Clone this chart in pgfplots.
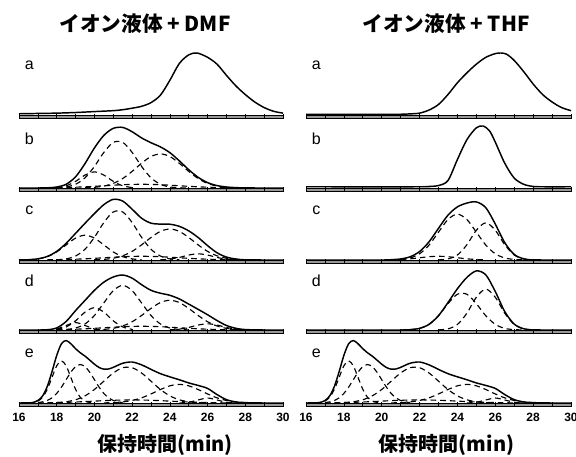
\documentclass[border=0pt]{standalone}
\usepackage{fontspec}
\setmainfont{Liberation Sans}
\newfontfamily\cjk{Noto Sans CJK JP}
\usepackage{pgfplots}
\pgfplotsset{compat=1.18}
\pgfplotsset{
  panel/.style={scale only axis, width=198pt, height=49.29pt,
    xmin=16, xmax=30, ymin=-0.06, ymax=1, clip=false,
    axis y line=none, axis x line*=bottom, axis on top,
    xtick={16,18,...,30}, minor xtick={17,19,...,29},
    tick align=inside, major tick length=3.5pt, minor tick length=3.5pt,
    tick style={black, line width=0.5pt},
    xticklabels={}, anchor=south west,
    /pgf/number format/assume math mode=true,
    xticklabel style={font=\fontsize{9}{10}\selectfont\bfseries, yshift=-1.5pt}},
  lastpanel/.style={xticklabels={16,18,20,22,24,26,28,30}},
  sol/.style={black, line width=1.1pt, smooth},
  dsh/.style={black, line width=0.85pt, smooth, dash pattern=on 4.2pt off 3pt},
}
\newcommand{\strip}{\draw[fill=black!40, line width=0.5pt] (axis cs:16,-0.06) rectangle (axis cs:30,0);}
\newcommand{\lab}[1]{\node[font=\fontsize{12}{14}\selectfont] at (axis cs:16.55,0.8) {#1};}
\begin{document}
\begin{tikzpicture}
\path[use as bounding box] (0,0) rectangle (432pt,342.75pt);
\node[font=\cjk\bfseries\fontsize{15.5}{17}\selectfont] at (108.75pt,324.75pt) {イオン液体 + DMF};
\node[font=\cjk\bfseries\fontsize{15.5}{17}\selectfont] at (334.5pt,324.75pt) {イオン液体 + THF};
\node[font=\cjk\bfseries\fontsize{15}{17}\selectfont] at (123.75pt,9pt) {保持時間(min)};
\node[font=\cjk\bfseries\fontsize{15}{17}\selectfont] at (334.9pt,9pt) {保持時間(min)};

% ---------- left a ----------
\begin{axis}[panel, at={(14.25pt,253.71pt)}]
\strip
\addplot[sol] coordinates {(16,0.02) (17,0.025) (18,0.03) (19,0.04) (20,0.055) (21,0.07) (21.5,0.085) (22,0.11) (22.5,0.14) (23,0.20) (23.5,0.32) (24,0.56) (24.5,0.83) (25,0.97) (25.44,1.0) (26,0.93) (26.5,0.82) (27,0.64) (27.5,0.47) (28,0.33) (28.5,0.21) (29,0.12) (29.5,0.06) (30,0.03)};
\lab{a}
\end{axis}

% ---------- left b ----------
\begin{axis}[panel, at={(14.25pt,198.96pt)}]
\strip
\addplot[sol] coordinates {(16,0) (17,0) (17.5,0.003) (18,0.016) (18.5,0.06) (19,0.18) (19.5,0.394) (20,0.646) (20.5,0.849) (21,0.962) (21.5,0.977) (22,0.907) (22.5,0.808) (23,0.73) (23.5,0.663) (24,0.57) (24.5,0.439) (25,0.295) (25.5,0.172) (26,0.087) (26.5,0.039) (27,0.016) (27.5,0.006) (28,0.001) (29,0) (30,0)};
\addplot[dsh] coordinates {(17.5,0.001) (18,0.004) (18.5,0.017) (19,0.06) (19.5,0.164) (20,0.348) (20.5,0.574) (21,0.736) (21.5,0.736) (22,0.574) (22.5,0.348) (23,0.164) (23.5,0.06) (24,0.017) (24.5,0.004) (25,0.001)};
\addplot[dsh] coordinates {(18,0.007) (18.5,0.035) (19,0.107) (19.5,0.208) (20,0.26) (20.5,0.208) (21,0.107) (21.5,0.035) (22,0.007)};
\addplot[dsh] coordinates {(19.5,0.003) (20,0.011) (20.5,0.031) (21,0.074) (21.5,0.153) (22,0.268) (22.5,0.399) (23,0.508) (23.5,0.55) (24,0.508) (24.5,0.399) (25,0.268) (25.5,0.153) (26,0.074) (26.5,0.031) (27,0.011) (27.5,0.003)};
\addplot[dsh] coordinates {(17.5,0.003) (18,0.005) (18.5,0.008) (19,0.013) (19.5,0.019) (20,0.027) (20.5,0.036) (21,0.045) (21.5,0.053) (22,0.058) (22.5,0.06) (23,0.058) (23.5,0.053) (24,0.045) (24.5,0.036) (25,0.027) (25.5,0.019) (26,0.013) (26.5,0.008) (27,0.005) (27.5,0.003)};
\lab{b}
\end{axis}

% ---------- left c ----------
\begin{axis}[panel, at={(14.25pt,144.96pt)}]
\strip
\addplot[sol] coordinates {(16,0) (16.5,0.004) (17,0.019) (17.5,0.057) (18,0.139) (18.5,0.269) (19,0.43) (19.5,0.592) (20,0.749) (20.5,0.893) (21,0.978) (21.5,0.95) (22,0.819) (22.5,0.674) (23,0.594) (23.5,0.579) (24,0.577) (24.5,0.543) (25,0.47) (25.5,0.363) (26,0.232) (26.5,0.117) (27,0.047) (27.5,0.016) (28,0.003) (29,0) (30,0)};
\addplot[dsh] coordinates {(18,0.004) (18.5,0.018) (19,0.064) (19.5,0.173) (20,0.366) (20.5,0.604) (21,0.775) (21.5,0.775) (22,0.604) (22.5,0.366) (23,0.173) (23.5,0.064) (24,0.018) (24.5,0.004)};
\addplot[dsh] coordinates {(16.5,0.004) (17,0.018) (17.5,0.054) (18,0.13) (18.5,0.243) (19,0.353) (19.5,0.4) (20,0.353) (20.5,0.243) (21,0.13) (21.5,0.054) (22,0.018) (22.5,0.004)};
\addplot[dsh] coordinates {(20,0.003) (20.5,0.01) (21,0.028) (21.5,0.068) (22,0.139) (22.5,0.244) (23,0.363) (23.5,0.462) (24,0.5) (24.5,0.462) (25,0.363) (25.5,0.244) (26,0.139) (26.5,0.068) (27,0.028) (27.5,0.01) (28,0.003)};
\addplot[dsh] coordinates {(23.5,0.003) (24,0.014) (24.5,0.041) (25,0.08) (25.5,0.1) (26,0.08) (26.5,0.041) (27,0.014) (27.5,0.003)};
\addplot[dsh] coordinates {(17.5,0.003) (18,0.005) (18.5,0.008) (19,0.013) (19.5,0.019) (20,0.027) (20.5,0.036) (21,0.045) (21.5,0.053) (22,0.058) (22.5,0.06) (23,0.058) (23.5,0.053) (24,0.045) (24.5,0.036) (25,0.027) (25.5,0.019) (26,0.013) (26.5,0.008) (27,0.005) (27.5,0.003)};
\lab{c}
\end{axis}

% ---------- left d ----------
\begin{axis}[panel, at={(14.25pt,92.46pt)}]
\strip
\addplot[sol] coordinates {(16,0) (17,0) (17.5,0.004) (18,0.033) (18.5,0.138) (19,0.313) (19.5,0.477) (20,0.64) (20.5,0.772) (21,0.855) (21.5,0.887) (22,0.836) (22.5,0.731) (23,0.64) (23.5,0.593) (24,0.56) (24.5,0.501) (25,0.418) (25.5,0.333) (26,0.246) (26.5,0.153) (27,0.073) (27.5,0.027) (28,0.007) (29,0) (30,0)};
\addplot[dsh] coordinates {(18,0.002) (18.5,0.008) (19,0.032) (19.5,0.097) (20,0.234) (20.5,0.437) (21,0.635) (21.5,0.72) (22,0.635) (22.5,0.437) (23,0.234) (23.5,0.097) (24,0.032) (24.5,0.008) (25,0.002)};
\addplot[dsh] coordinates {(18,0.01) (18.5,0.049) (19,0.148) (19.5,0.288) (20,0.36) (20.5,0.288) (21,0.148) (21.5,0.049) (22,0.01)};
\addplot[dsh] coordinates {(17.5,0.001) (18,0.016) (18.5,0.073) (19,0.12) (19.5,0.073) (20,0.016) (20.5,0.001)};
\addplot[dsh] coordinates {(20,0.003) (20.5,0.01) (21,0.027) (21.5,0.065) (22,0.133) (22.5,0.234) (23,0.348) (23.5,0.443) (24,0.48) (24.5,0.443) (25,0.348) (25.5,0.234) (26,0.133) (26.5,0.065) (27,0.027) (27.5,0.01) (28,0.003)};
\addplot[dsh] coordinates {(24,0.003) (24.5,0.014) (25,0.041) (25.5,0.08) (26,0.1) (26.5,0.08) (27,0.041) (27.5,0.014) (28,0.003)};
\addplot[dsh] coordinates {(17.5,0.003) (18,0.005) (18.5,0.008) (19,0.013) (19.5,0.019) (20,0.027) (20.5,0.036) (21,0.045) (21.5,0.053) (22,0.058) (22.5,0.06) (23,0.058) (23.5,0.053) (24,0.045) (24.5,0.036) (25,0.027) (25.5,0.019) (26,0.013) (26.5,0.008) (27,0.005) (27.5,0.003)};
\lab{d}
\end{axis}

% ---------- left e ----------
\begin{axis}[panel, lastpanel, at={(14.25pt,37.71pt)}]
\strip
\addplot[sol] coordinates {(16,0) (16.5,0.002) (16.75,0.009) (17,0.04) (17.25,0.113) (17.5,0.268) (17.75,0.505) (18,0.767) (18.25,0.955) (18.5,1.007) (18.75,0.955) (19,0.876) (19.25,0.81) (19.5,0.756) (19.75,0.692) (20,0.626) (20.25,0.572) (20.5,0.546) (20.75,0.549) (21,0.575) (21.5,0.641) (22,0.661) (22.5,0.615) (23,0.542) (23.5,0.473) (24,0.422) (24.5,0.375) (25,0.324) (25.5,0.283) (26,0.235) (26.5,0.136) (27,0.054) (27.5,0.017) (28,0.006) (28.5,0.002) (29,0) (30,0)};
\addplot[dsh] coordinates {(16.5,0.002) (16.75,0.008) (17,0.031) (17.25,0.092) (17.5,0.221) (17.75,0.412) (18,0.6) (18.25,0.68) (18.5,0.6) (18.75,0.412) (19,0.221) (19.25,0.092) (19.5,0.031) (19.75,0.008) (20,0.002)};
\addplot[dsh] coordinates {(17,0.007) (17.25,0.018) (17.5,0.041) (17.75,0.084) (18,0.154) (18.25,0.255) (18.5,0.376) (18.75,0.497) (19,0.587) (19.25,0.62) (19.5,0.587) (19.75,0.497) (20,0.376) (20.25,0.255) (20.5,0.154) (20.75,0.084) (21,0.041) (21.25,0.018) (21.5,0.007)};
\addplot[dsh] coordinates {(17.5,0.002) (18,0.006) (18.5,0.02) (19,0.052) (19.5,0.115) (20,0.218) (20.5,0.352) (21,0.484) (21.5,0.569) (22,0.569) (22.5,0.484) (23,0.352) (23.5,0.218) (24,0.115) (24.5,0.052) (25,0.02) (25.5,0.006) (26,0.002)};
\addplot[dsh] coordinates {(20.5,0.002) (21,0.006) (21.5,0.017) (22,0.041) (22.5,0.083) (23,0.146) (23.5,0.217) (24,0.277) (24.5,0.3) (25,0.277) (25.5,0.217) (26,0.146) (26.5,0.083) (27,0.041) (27.5,0.017) (28,0.006) (28.5,0.002)};
\addplot[dsh] coordinates {(24.5,0.001) (25,0.011) (25.5,0.049) (26,0.08) (26.5,0.049) (27,0.011) (27.5,0.001)};
\addplot[dsh] coordinates {(16.5,0.001) (17,0.002) (17.5,0.004) (18,0.007) (18.5,0.011) (19,0.016) (19.5,0.023) (20,0.03) (20.5,0.038) (21,0.044) (21.5,0.048) (22,0.05) (22.5,0.048) (23,0.044) (23.5,0.038) (24,0.03) (24.5,0.023) (25,0.016) (25.5,0.011) (26,0.007) (26.5,0.004) (27,0.002) (27.5,0.001)};
\lab{e}
\end{axis}

% ---------- right a ----------
\begin{axis}[panel, width=198.75pt, at={(229.5pt,253.71pt)}]
\strip
\addplot[sol] coordinates {(16,0.01) (17,0.01) (18,0.01) (19,0.01) (20,0.01) (21,0.012) (21.5,0.018) (22,0.03) (22.5,0.08) (23,0.17) (23.5,0.33) (24,0.52) (24.5,0.68) (25,0.82) (25.5,0.93) (26,0.99) (26.3,1.0) (26.6,0.98) (27,0.88) (27.5,0.70) (28,0.50) (28.5,0.33) (29,0.21) (29.5,0.12) (30,0.07)};
\lab{a}
\end{axis}

% ---------- right b ----------
\begin{axis}[panel, width=198.75pt, at={(229.5pt,198.96pt)}]
\strip
\addplot[sol] coordinates {(16,0.02) (22,0.02) (22.5,0.025) (23,0.04) (23.5,0.12) (24,0.46) (24.5,0.78) (25,0.97) (25.35,1.0) (25.7,0.92) (26,0.74) (26.5,0.40) (27,0.16) (27.5,0.06) (28,0.025) (28.5,0.02) (30,0.02)};
\lab{b}
\end{axis}

% ---------- right c ----------
\begin{axis}[panel, width=198.75pt, at={(229.5pt,144.96pt)}]
\strip
\addplot[sol] coordinates {(16,0) (20,0) (20.5,0.005) (21,0.017) (21.5,0.052) (22,0.136) (22.5,0.293) (23,0.511) (23.5,0.723) (24,0.857) (24.5,0.918) (25,0.937) (25.5,0.843) (26,0.58) (26.5,0.279) (27,0.09) (27.5,0.019) (28,0.002) (29,0) (30,0)};
\addplot[dsh] coordinates {(20.5,0.002) (21,0.009) (21.5,0.033) (22,0.1) (22.5,0.24) (23,0.449) (23.5,0.653) (24,0.74) (24.5,0.653) (25,0.449) (25.5,0.24) (26,0.1) (26.5,0.033) (27,0.009) (27.5,0.002)};
\addplot[dsh] coordinates {(23,0.002) (23.5,0.017) (24,0.081) (24.5,0.246) (25,0.48) (25.5,0.6) (26,0.48) (26.5,0.246) (27,0.081) (27.5,0.017) (28,0.002)};
\addplot[dsh] coordinates {(20.5,0.003) (21,0.008) (21.5,0.019) (22,0.036) (22.5,0.053) (23,0.06) (23.5,0.053) (24,0.036) (24.5,0.019) (25,0.008) (25.5,0.003)};
\lab{c}
\end{axis}

% ---------- right d ----------
\begin{axis}[panel, width=198.75pt, at={(229.5pt,92.46pt)}]
\strip
\addplot[sol] coordinates {(16,0) (21,0) (21.5,0.006) (22,0.026) (22.5,0.091) (23,0.231) (23.5,0.442) (24,0.666) (24.5,0.848) (25,0.953) (25.5,0.889) (26,0.62) (26.5,0.297) (27,0.095) (27.5,0.02) (28,0.002) (29,0) (30,0)};
\addplot[dsh] coordinates {(21,0.001) (21.5,0.006) (22,0.026) (22.5,0.091) (23,0.229) (23.5,0.424) (24,0.577) (24.5,0.577) (25,0.424) (25.5,0.229) (26,0.091) (26.5,0.026) (27,0.006) (27.5,0.001)};
\addplot[dsh] coordinates {(23,0.002) (23.5,0.018) (24,0.089) (24.5,0.271) (25,0.529) (25.5,0.66) (26,0.529) (26.5,0.271) (27,0.089) (27.5,0.019) (28,0.002)};
\lab{d}
\end{axis}

% ---------- right e ----------
\begin{axis}[panel, lastpanel, width=198.75pt, at={(229.5pt,37.71pt)}]
\strip
\addplot[sol] coordinates {(16,0) (16.5,0.002) (16.75,0.009) (17,0.04) (17.25,0.113) (17.5,0.268) (17.75,0.505) (18,0.767) (18.25,0.955) (18.5,1.007) (18.75,0.955) (19,0.876) (19.25,0.81) (19.5,0.756) (19.75,0.692) (20,0.626) (20.25,0.572) (20.5,0.546) (20.75,0.549) (21,0.575) (21.5,0.641) (22,0.661) (22.5,0.615) (23,0.542) (23.5,0.473) (24,0.422) (24.5,0.375) (25,0.324) (25.5,0.283) (26,0.235) (26.5,0.136) (27,0.054) (27.5,0.017) (28,0.006) (28.5,0.002) (29,0) (30,0)};
\addplot[dsh] coordinates {(16.5,0.002) (16.75,0.008) (17,0.031) (17.25,0.092) (17.5,0.221) (17.75,0.412) (18,0.6) (18.25,0.68) (18.5,0.6) (18.75,0.412) (19,0.221) (19.25,0.092) (19.5,0.031) (19.75,0.008) (20,0.002)};
\addplot[dsh] coordinates {(17,0.007) (17.25,0.018) (17.5,0.041) (17.75,0.084) (18,0.154) (18.25,0.255) (18.5,0.376) (18.75,0.497) (19,0.587) (19.25,0.62) (19.5,0.587) (19.75,0.497) (20,0.376) (20.25,0.255) (20.5,0.154) (20.75,0.084) (21,0.041) (21.25,0.018) (21.5,0.007)};
\addplot[dsh] coordinates {(17.5,0.002) (18,0.006) (18.5,0.02) (19,0.052) (19.5,0.115) (20,0.218) (20.5,0.352) (21,0.484) (21.5,0.569) (22,0.569) (22.5,0.484) (23,0.352) (23.5,0.218) (24,0.115) (24.5,0.052) (25,0.02) (25.5,0.006) (26,0.002)};
\addplot[dsh] coordinates {(20.5,0.002) (21,0.006) (21.5,0.017) (22,0.041) (22.5,0.083) (23,0.146) (23.5,0.217) (24,0.277) (24.5,0.3) (25,0.277) (25.5,0.217) (26,0.146) (26.5,0.083) (27,0.041) (27.5,0.017) (28,0.006) (28.5,0.002)};
\addplot[dsh] coordinates {(24.5,0.001) (25,0.011) (25.5,0.049) (26,0.08) (26.5,0.049) (27,0.011) (27.5,0.001)};
\addplot[dsh] coordinates {(16.5,0.001) (17,0.002) (17.5,0.004) (18,0.007) (18.5,0.011) (19,0.016) (19.5,0.023) (20,0.03) (20.5,0.038) (21,0.044) (21.5,0.048) (22,0.05) (22.5,0.048) (23,0.044) (23.5,0.038) (24,0.03) (24.5,0.023) (25,0.016) (25.5,0.011) (26,0.007) (26.5,0.004) (27,0.002) (27.5,0.001)};
\lab{e}
\end{axis}
\end{tikzpicture}
\end{document}
